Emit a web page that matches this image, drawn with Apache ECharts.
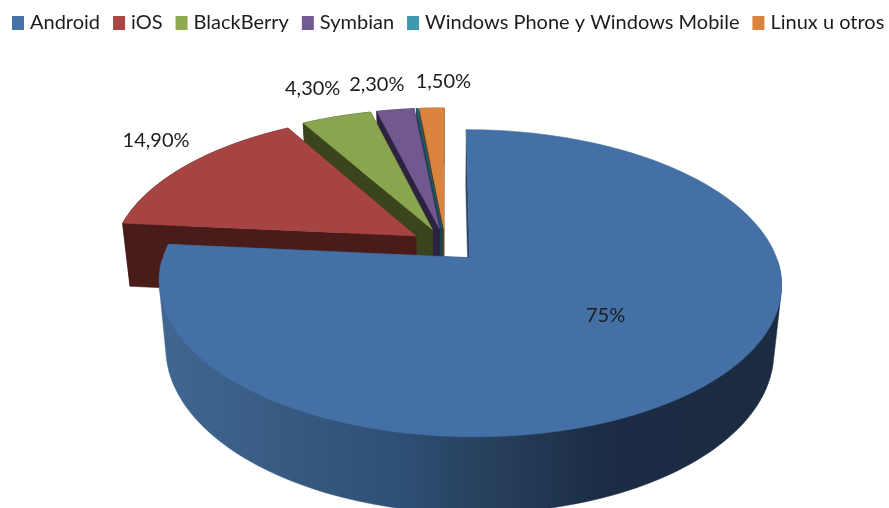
<!DOCTYPE html>
<html>
<head>
<meta charset="utf-8">
<style>html,body{margin:0;padding:0;background:#fff}#chart{width:889px;height:508px}</style>
<script src="https://cdn.jsdelivr.net/npm/echarts@6/dist/echarts.min.js"></script>
</head>
<body>
<div id="chart"></div>
<script>
// Market share by mobile platform
const categories = ['Android', 'iOS', 'BlackBerry', 'Symbian', 'Windows Phone y Windows Mobile', 'Linux u otros'];
const shares = [75, 14.9, 4.3, 2.3, 0.1, 1.5];
const valueLabels = ['75%', '14,90%', '4,30%', '2,30%', '', '1,50%'];

const topColors = ['#4570A6', '#A54442', '#89A54E', '#71588F', '#265F70', '#DB843D'];
const wallColors = ['#2A4669', '#4A1C19', '#3A451E', '#2D2240', '#1B4350', '#5C3612'];
const legendColors = ['#4572A7', '#AA4643', '#8FAA4F', '#725A94', '#3F99B1', '#DD843C'];
const drawOrder = [6, 5, 4, 3, 2, 1];
const labelReach = [0.55, 1.36, 1.41, 1.38, 0, 1.38];
const labelAngleShift = [-6, 4.5, 0, -1.5, 0, 2.4];

// Tilted view of the unit disc: a perspective map from disc plane to screen
const view = {cx: 445.5, cy: 245, a: 302.5, b: 145.2, k: 0.1637, explode: 0.117,
  wallScaleX: 0.977, wallScaleY: 1.062, wallDrop: 64.5};

function project(u, v, lower) {
  const w = 1 + view.k * v;
  let x = view.cx + view.a * u / w;
  let y = view.cy - view.b * v / w;
  if (lower) {
    x = view.cx + (x - view.cx) * view.wallScaleX;
    y = view.cy + (y - view.cy) * view.wallScaleY + view.wallDrop;
  }
  return [x, y];
}

// Convex outline of a point set, used for the silhouette of the curved wall
function convexOutline(points) {
  const pts = points.slice().sort((p, q) => p[0] - q[0] || p[1] - q[1]);
  const cross = (o, p, q) => (p[0] - o[0]) * (q[1] - o[1]) - (p[1] - o[1]) * (q[0] - o[0]);
  const chain = list => {
    const out = [];
    for (const p of list) {
      while (out.length > 1 && cross(out[out.length - 2], out[out.length - 1], p) <= 0) out.pop();
      out.push(p);
    }
    out.pop();
    return out;
  };
  return chain(pts).concat(chain(pts.slice().reverse()));
}

const total = shares.reduce((s, v) => s + v, 0);
const radians = d => d * Math.PI / 180;

function sliceStart(index) {
  let before = 0;
  for (let i = 0; i < index; i++) before += shares[i];
  return before / total * 360;
}

// Shading of the long curved wall, tied to page x
const rimShade = new echarts.graphic.LinearGradient(159, 0, 783, 0, [
  {offset: 0.02, color: '#3F6691'},
  {offset: 0.22, color: '#37597F'},
  {offset: 0.385, color: '#2E4F76'},
  {offset: 0.51, color: '#28425F'},
  {offset: 0.72, color: '#1B2C44'},
  {offset: 1, color: '#1A2B42'}
], true);

function renderSlice(params, api) {
  const i = params.seriesIndex;
  const sweep = api.value(0) / total * 360;
  const start = sliceStart(i);
  const mid = radians(start + sweep / 2);
  const ou = view.explode * Math.sin(mid);
  const ov = view.explode * Math.cos(mid);

  const rim = [];
  const frontRim = [];
  const steps = Math.max(2, Math.ceil(sweep / 1.5));
  for (let s = 0; s <= steps; s++) {
    const t = radians(start + sweep * s / steps);
    const p = [ou + Math.sin(t), ov + Math.cos(t)];
    rim.push(p);
    if (Math.cos(t) < 0) frontRim.push(p);
  }
  const upper = p => project(p[0], p[1], false);
  const under = p => project(p[0], p[1], true);
  const hub = [ou, ov];
  const first = rim[0];
  const last = rim[rim.length - 1];

  const face = (points, fill) => ({
    type: 'polygon',
    shape: {points},
    style: {fill, stroke: fill, lineWidth: 0.5},
    silent: true
  });

  const curvedWall = frontRim.length > 2
    ? face(convexOutline(frontRim.map(upper).concat(frontRim.map(under))), rimShade)
    : face(rim.map(upper).concat(rim.slice().reverse().map(under)), wallColors[i]);

  const children = [
    face([upper(hub), upper(first), under(first), under(hub)], wallColors[i]),
    face([upper(hub), upper(last), under(last), under(hub)], wallColors[i]),
    curvedWall,
    face([upper(hub)].concat(rim.map(upper)), topColors[i])
  ];

  if (valueLabels[i]) {
    const a = mid + radians(labelAngleShift[i]);
    const reach = labelReach[i];
    const base = i === 0 ? hub : [0, 0];
    const at = project(base[0] + reach * Math.sin(a), base[1] + reach * Math.cos(a), false);
    children.push({
      type: 'text',
      silent: true,
      style: {
        text: valueLabels[i], x: at[0], y: at[1],
        align: 'center', verticalAlign: 'middle',
        font: '20px Lato', fill: '#1c1c1c'
      }
    });
  }
  return {type: 'group', children};
}

const chart = echarts.init(document.getElementById('chart'), null, {renderer: 'canvas'});
chart.setOption({
  animation: false,
  backgroundColor: '#fff',
  legend: {
    data: categories,
    left: 12,
    top: 13,
    width: 877,
    icon: 'rect',
    itemWidth: 12,
    itemHeight: 14,
    itemGap: 13,
    itemStyle: {borderWidth: 0},
    padding: 0,
    textStyle: {fontFamily: 'Lato', fontSize: 20, color: '#1c1c1c', padding: [0, 0, 0, 1]}
  },
  series: categories.map((name, i) => ({
    type: 'custom',
    name,
    coordinateSystem: 'none',
    z: drawOrder[i],
    silent: true,
    itemStyle: {color: legendColors[i]},
    data: [[shares[i]]],
    renderItem: renderSlice
  }))
});
</script>
</body>
</html>
